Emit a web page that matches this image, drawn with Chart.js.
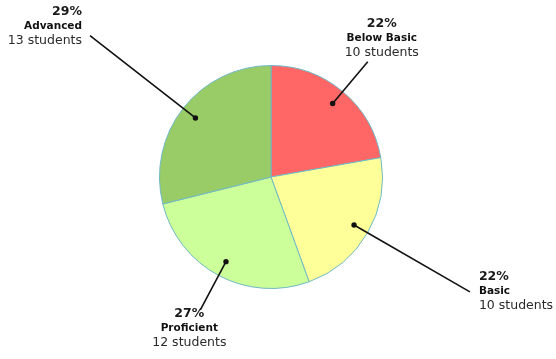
<!DOCTYPE html>
<html>
<head>
<meta charset="utf-8">
<script src="https://cdn.jsdelivr.net/npm/chart.js@4.4.1/dist/chart.umd.min.js"></script>
<style>
  html, body { margin: 0; padding: 0; background: #fff; }
  #wrap { width: 556px; height: 359px; position: relative; }
</style>
</head>
<body>
<div id="wrap"><canvas id="grafica"></canvas></div>
<script>
const niveles = ['Below Basic', 'Basic', 'Proficient', 'Advanced'];
const alumnos = [10, 10, 12, 13];
const colores = ['#ff6666', '#ffff99', '#ccff99', '#99cc66'];

const total = alumnos.reduce((a, b) => a + b, 0);

// lineas con punto desde cada porcion hasta su etiqueta
const etiquetasPlugin = {
  id: 'etiquetas',
  afterDatasetsDraw(chart) {
    const ctx = chart.ctx;
    const meta = chart.getDatasetMeta(0);
    meta.data.forEach((arco, i) => {
      const { x, y, startAngle, endAngle, outerRadius } = arco.getProps(['x', 'y', 'startAngle', 'endAngle', 'outerRadius'], true);
      const medio = (startAngle + endAngle) / 2;
      const cos = Math.cos(medio);
      const sin = Math.sin(medio);
      // arriba/abajo: linea corta y texto centrado; a los lados: linea larga
      const vertical = Math.abs(sin) > Math.abs(cos);
      const largo = vertical ? 1.35 : 2.06;
      const px = x + cos * outerRadius * 0.86;
      const py = y + sin * outerRadius * 0.86;
      const fx = x + cos * outerRadius * largo;
      const fy = y + sin * outerRadius * largo;

      ctx.save();
      ctx.strokeStyle = '#111';
      ctx.lineWidth = 1.6;
      ctx.beginPath();
      ctx.moveTo(px, py);
      ctx.lineTo(fx, fy);
      ctx.stroke();
      ctx.fillStyle = '#111';
      ctx.beginPath();
      ctx.arc(px, py, 2.7, 0, Math.PI * 2);
      ctx.fill();

      const pct = Math.round(alumnos[i] / total * 100) + '%';
      const lineas = [
        { t: pct, f: 'bold 12.5px "DejaVu Sans"', c: '#1a1a1a' },
        { t: niveles[i], f: 'bold 10.5px "DejaVu Sans"', c: '#111' },
        { t: alumnos[i] + ' students', f: '12.5px "DejaVu Sans"', c: '#2a2a2a' }
      ];
      let tx, ty, align;
      if (vertical) {
        align = 'center';
        if (sin < 0) { tx = fx + 14; ty = fy - 9 - 29; }
        else { tx = fx - 11; ty = fy + 4; }
      } else {
        if (cos < 0) { align = 'right'; tx = fx - 8; ty = fy - 24; }
        else { align = 'left'; tx = fx + 9; ty = fy - 15; }
      }
      ctx.textAlign = align;
      ctx.textBaseline = 'middle';
      lineas.forEach((l, k) => {
        ctx.font = l.f;
        ctx.fillStyle = l.c;
        ctx.fillText(l.t, tx, ty + k * 14.5);
      });
      ctx.restore();
    });
  }
};

const ctx = document.getElementById('grafica').getContext('2d');
const grafica = new Chart(ctx, {
  type: 'pie',
  data: {
    labels: niveles,
    datasets: [{
      data: alumnos,
      backgroundColor: colores,
      borderColor: '#6fb9c6',
      borderWidth: 1
    }]
  },
  options: {
    responsive: true,
    maintainAspectRatio: false,
    animation: false,
    layout: { padding: { top: 65, bottom: 70, left: 159, right: 173 } },
    plugins: {
      legend: { display: false },
      tooltip: { enabled: false }
    }
  },
  plugins: [etiquetasPlugin]
});
</script>
</body>
</html>
